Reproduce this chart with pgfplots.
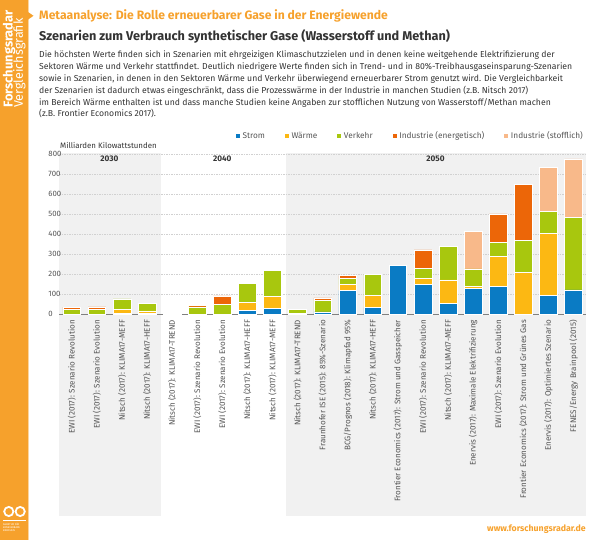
\documentclass[border=0pt]{standalone}
\usepackage{fontspec}
\setmainfont{Fira Sans}
\usepackage{pgfplots}
\pgfplotsset{compat=1.18}

\definecolor{strom}{HTML}{0A7BC4}
\definecolor{waerme}{HTML}{FCB813}
\definecolor{verkehr}{HTML}{A8C70E}
\definecolor{indene}{HTML}{EC6608}
\definecolor{indsto}{HTML}{F8B98A}
\definecolor{frorange}{HTML}{F6A12C}
\definecolor{bandgray}{HTML}{F1F1F1}
\definecolor{txt}{HTML}{333333}
\definecolor{ticktxt}{HTML}{555555}

\begin{document}
\begin{tikzpicture}
\begin{scope}[x=1bp,y=1bp]
% side bar
\fill[frorange] (0,0) rectangle (28,-540);
\fill[frorange!45] (28,0) rectangle (29,-540);
\fill[frorange] (28,-12) -- (33.5,-15.8) -- (28,-19.6) -- cycle;
\node[rotate=90, anchor=base west, inner sep=0, text=white,
      font=\bfseries\fontsize{12.9}{13}\selectfont] at (12.5,-108) {Forschungsradar};
\node[rotate=90, anchor=base west, inner sep=0, text=white,
      font=\fontsize{12.6}{13}\selectfont] at (22.8,-108) {Vergleichsgrafik};
\draw[white, line width=1.8] (8.8,-511.5) circle (4.6);
\draw[white, line width=1.8] (20.2,-511.5) circle (4.6);
\draw[white, line width=0.3] (3,-520.5) -- (26,-520.5);
\node[anchor=north west, inner sep=0, align=left, text=white,
      font=\fontsize{2.6}{3}\selectfont] at (3,-523) {AGENTUR FÜR\\ERNEUERBARE\\ENERGIEN};

% header
\node[anchor=base west, inner sep=0, text=frorange,
      font=\bfseries\fontsize{12.2}{13}\selectfont] at (39,-19.8)
      {Metaanalyse: Die Rolle erneuerbarer Gase in der Energiewende};
\node[anchor=base west, inner sep=0, text=txt,
      font=\bfseries\fontsize{12.75}{14}\selectfont] at (39,-40.2)
      {Szenarien zum Verbrauch synthetischer Gase (Wasserstoff und Methan)};
\begin{scope}[every node/.style={anchor=base west, inner sep=0, text=txt,
      font=\fontsize{8.7}{10}\selectfont}]
\node at (39,-57.2) {Die höchsten Werte finden sich in Szenarien mit ehrgeizigen Klimaschutzzielen und in denen keine weitgehende Elektrifizierung der};
\node at (39,-69.2) {Sektoren Wärme und Verkehr stattfindet. Deutlich niedrigere Werte finden sich in Trend- und in 80\%-Treibhausgaseinsparung-Szenarien};
\node at (39,-81.4) {sowie in Szenarien, in denen in den Sektoren Wärme und Verkehr überwiegend erneuerbarer Strom genutzt wird. Die Vergleichbarkeit};
\node at (39,-93.4) {der Szenarien ist dadurch etwas eingeschränkt, dass die Prozesswärme in der Industrie in manchen Studien (z.B. Nitsch 2017)};
\node at (39,-105.2) {im Bereich Wärme enthalten ist und dass manche Studien keine Angaben zur stofflichen Nutzung von Wasserstoff/Methan machen};
\node at (39,-116.9) {(z.B. Frontier Economics 2017).};
\end{scope}

% period bands
\fill[bandgray] (59.3,-153.3) rectangle (160.7,-516);
\fill[bandgray] (286,-153.3) rectangle (586,-516);

\node[anchor=west, inner sep=0, text=txt, font=\fontsize{7.9}{9}\selectfont]
      at (60,-145) {Milliarden Kilowattstunden};
\node[anchor=base east, inner sep=0, text=frorange, font=\bfseries\fontsize{8.8}{10}\selectfont]
      at (586,-531) {www.forschungsradar.de};
\end{scope}

\begin{axis}[
    at={(59.3bp,-314.3bp)}, anchor=south west,
    scale only axis,
    width=526.7bp, height=160bp,
    xmin=-0.5, xmax=20.5,
    ymin=0, ymax=800,
    ybar stacked,
    bar width=17.7bp,
    clip=false,
    axis line style={draw=none},
    tick style={draw=none},
    ytick={0,100,...,800},
    ymajorgrids,
    grid style={color=black!18, dash pattern=on 1.5pt off 1pt, line width=0.4pt},
    /pgf/number format/assume math mode=true,
    yticklabel style={anchor=west, xshift=-11bp, inner sep=0, text=ticktxt,
        font=\fontsize{7.8}{9}\selectfont},
    xtick={0,...,20},
    xticklabels={
        EWI (2017): Szenario Revolution,
        EWI (2017): Szenario Evolution,
        Nitsch (2017): KLIMA17-MEFF,
        Nitsch (2017): KLIMA17-HEFF,
        Nitsch (2017): KLIMA17-TREND,
        EWI (2017): Szenario Revolution,
        EWI (2017): Szenario Evolution,
        Nitsch (2017): KLIMA17-HEFF,
        Nitsch (2017): KLIMA17-MEFF,
        Nitsch (2017): KLIMA17-TREND,
        Fraunhofer ISE (2015): 85\%-Szenario,
        BCG/Prognos (2018): Klimapfad 95\%,
        Nitsch (2017): KLIMA17-HEFF,
        Frontier Economics (2017): Strom und Gasspeicher,
        EWI (2017): Szenario Revolution,
        Nitsch (2017): KLIMA17-MEFF,
        Enervis (2017): Maximale Elektrifizierung,
        EWI (2017): Szenario Evolution,
        Frontier Economics (2017): Strom und Grünes Gas,
        Enervis (2017): Optimiertes Szenario,
        FENES/Energy Brainpool (2015)},
    xticklabel style={yshift=-5.5bp, rotate=90, anchor=east, inner sep=0, text=ticktxt,
        font=\fontsize{8.1}{9}\selectfont},
    legend columns=-1,
    legend style={at={(1,1)}, anchor=south east, xshift=-1bp, yshift=12bp,
        draw=none, fill=none, inner sep=0,
        font=\fontsize{8.3}{9}\selectfont, text=ticktxt,
        /tikz/every even column/.append style={column sep=17bp}},
    legend image code/.code={\fill[#1] (0bp,-2.5bp) rectangle (5bp,2.5bp);},
]
\addplot[fill=strom, draw=white, line width=0.6bp] coordinates {
    (0,0) (1,0) (2,5) (3,3) (4,0) (5,0) (6,0) (7,21) (8,29) (9,3) (10,12)
    (11,120) (12,33) (13,245) (14,150) (15,55) (16,130) (17,140) (18,0) (19,95) (20,122)};
\addplot[fill=waerme, draw=white, line width=0.6bp] coordinates {
    (0,0) (1,0) (2,20) (3,14) (4,0) (5,0) (6,0) (7,38) (8,62) (9,0) (10,0)
    (11,28) (12,60) (13,0) (14,30) (15,117) (16,8) (17,148) (18,210) (19,310) (20,0)};
\addplot[fill=verkehr, draw=white, line width=0.6bp] coordinates {
    (0,24) (1,25) (2,52) (3,39) (4,3) (5,37) (6,51) (7,94) (8,127) (9,22) (10,58)
    (11,30) (12,107) (13,0) (14,48) (15,166) (16,89) (17,72) (18,158) (19,108) (20,361)};
\addplot[fill=indene, draw=white, line width=0.6bp] coordinates {
    (0,12) (1,12) (2,0) (3,0) (4,0) (5,8) (6,41) (7,0) (8,0) (9,0) (10,12)
    (11,17) (12,0) (13,0) (14,94) (15,0) (16,0) (17,142) (18,282) (19,0) (20,0)};
\addplot[fill=indsto, draw=white, line width=0.6bp] coordinates {
    (0,0) (1,0) (2,0) (3,0) (4,0) (5,6) (6,0) (7,0) (8,0) (9,0) (10,0)
    (11,0) (12,0) (13,0) (14,0) (15,0) (16,188) (17,0) (18,0) (19,222) (20,294)};
\legend{Strom, Wärme, Verkehr, Industrie (energetisch), Industrie (stofflich)}

\draw[color=black!50, line width=1.3bp] (axis cs:-0.5,0) -- (axis cs:20.5,0);
\node[font=\bfseries\fontsize{8.2}{9}\selectfont, text=txt] at (axis cs:1.5,776) {2030};
\node[font=\bfseries\fontsize{8.2}{9}\selectfont, text=txt] at (axis cs:6,776) {2040};
\node[font=\bfseries\fontsize{8.2}{9}\selectfont, text=txt] at (axis cs:14.5,776) {2050};
\end{axis}
\pgfresetboundingbox
\path[use as bounding box] (0,0) rectangle (600bp,-540bp);
\end{tikzpicture}
\end{document}
